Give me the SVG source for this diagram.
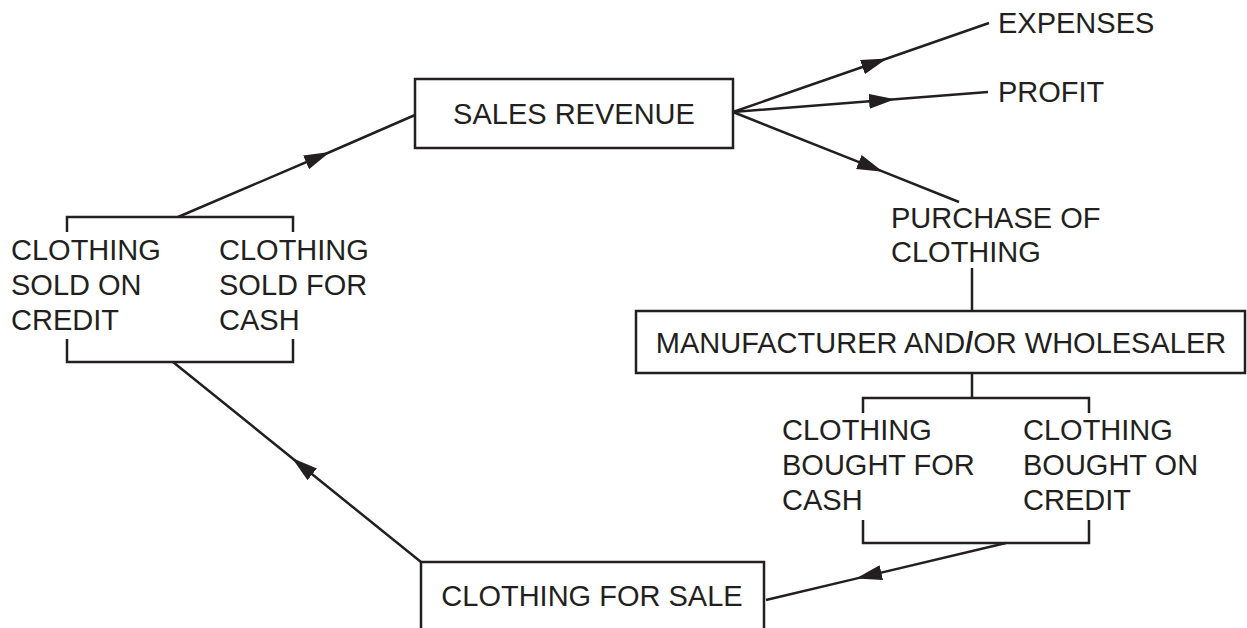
<svg xmlns="http://www.w3.org/2000/svg" width="1247" height="628" viewBox="0 0 1247 628">
<style>
text{font-family:"Liberation Sans",Arial,Helvetica,sans-serif;font-size:29px;fill:#231f20}
.box{fill:#fff;stroke:#231f20;stroke-width:2.5}
.ln{fill:none;stroke:#231f20;stroke-width:2.5}
.arr{fill:none;stroke:#231f20;stroke-width:2.5;marker-mid:url(#ah)}
</style>
<defs>
<marker id="ah" markerUnits="userSpaceOnUse" viewBox="0 0 26 15" refX="26" refY="7.5" markerWidth="26" markerHeight="15" orient="auto">
<path d="M0,0 L26,7.5 L0,15 z" fill="#231f20"/>
</marker>
</defs>
<rect width="1247" height="628" fill="#fff"/>
<g id="connectors">
<path class="arr" d="M178,217 L330,152 L415,115"/>
<path class="arr" d="M733,112 L887,58.5 L989,23"/>
<path class="arr" d="M733,112 L895,99.3 L988,92"/>
<path class="arr" d="M733,112 L883,171.7 L959,202"/>
<path class="ln" d="M972,268 V311"/>
<path class="ln" d="M972,373 V398"/>
<path class="arr" d="M1006,543 L856,578.6 L766,600"/>
<path class="arr" d="M421,562 L292,458 L173,362"/>
</g>
<g id="sales-revenue">
<rect class="box" x="415" y="79" width="318" height="69"/>
<text x="574" y="124" text-anchor="middle">SALES REVENUE</text>
</g>
<g id="expenses">
<text x="998" y="33">EXPENSES</text>
</g>
<g id="profit">
<text x="998" y="102">PROFIT</text>
</g>
<g id="purchase">
<text x="891" y="228">PURCHASE OF</text>
<text x="891" y="262">CLOTHING</text>
</g>
<g id="manufacturer">
<rect class="box" x="636" y="311" width="609" height="62"/>
<text x="941" y="353" text-anchor="middle">MANUFACTURER AND<tspan font-weight="bold">/</tspan>OR WHOLESALER</text>
</g>
<g id="bought">
<path class="ln" d="M863,413 V398 H1089 V413"/>
<path class="ln" d="M863,520 V543 H1089 V520"/>
<text x="782" y="440">CLOTHING</text>
<text x="782" y="475">BOUGHT FOR</text>
<text x="782" y="510">CASH</text>
<text x="1023" y="440">CLOTHING</text>
<text x="1023" y="475">BOUGHT ON</text>
<text x="1023" y="510">CREDIT</text>
</g>
<g id="clothing-for-sale">
<rect class="box" x="421" y="562" width="343" height="90"/>
<text x="592" y="606" text-anchor="middle">CLOTHING FOR SALE</text>
</g>
<g id="sold">
<path class="ln" d="M67,232 V217 H293 V232"/>
<path class="ln" d="M67,339 V362 H293 V339"/>
<text x="11" y="260">CLOTHING</text>
<text x="11" y="295">SOLD ON</text>
<text x="11" y="330">CREDIT</text>
<text x="219" y="260">CLOTHING</text>
<text x="219" y="295">SOLD FOR</text>
<text x="219" y="330">CASH</text>
</g>
</svg>
